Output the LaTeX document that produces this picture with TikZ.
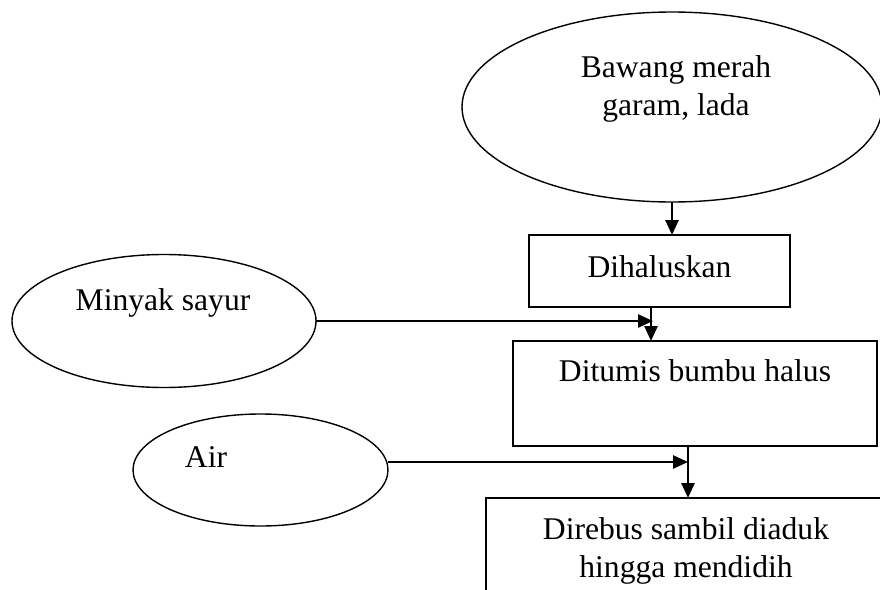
\documentclass[tikz,border=0pt]{standalone}
\usepackage{fontspec}
\setmainfont{Liberation Serif}
\usetikzlibrary{shapes.geometric,arrows.meta}
\begin{document}
\begin{tikzpicture}[x=1pt,y=-1pt,
  every node/.style={inner sep=0pt, outer sep=0pt},
  oval/.style={draw, line width=1.4pt, ellipse},
  stepbox/.style={draw, line width=1.8pt, rectangle},
  lbl/.style={font=\fontsize{31.6}{38}\selectfont, anchor=base, align=center},
  flow/.style={line width=2.6pt, -{Triangle[length=15pt,width=13pt]}}]
  \clip (0,0) rectangle (880,589);
  \fill[white] (0,0) rectangle (880,589);

  % inputs
  \node[oval, minimum width=420pt, minimum height=190pt] (bawang) at (672,107) {};
  \node[lbl] (bawangtxt) at (676,115) {Bawang merah\\garam, lada};
  \node[oval, minimum width=304pt, minimum height=133pt] (minyak) at (164,321) {};
  \node[lbl] (minyaktxt) at (163,310) {Minyak sayur};
  \node[oval, minimum width=255pt, minimum height=112pt] (air) at (260.5,470) {};
  \node[lbl] (airtxt) at (206,467) {Air};

  % process steps
  \node[stepbox, minimum width=261pt, minimum height=72pt] (dihal) at (659.5,271) {};
  \node[lbl] (dihaltxt) at (659.5,277) {Dihaluskan};
  \node[stepbox, minimum width=364pt, minimum height=105pt] (tumis) at (695,393.5) {};
  \node[lbl] (tumistxt) at (695,381) {Ditumis bumbu halus};
  \node[stepbox, minimum width=400pt, minimum height=140pt] (rebus) at (686,568) {};
  \node[lbl] (rebustxt) at (686,577) {Direbus sambil diaduk\\hingga mendidih};

  % connectors
  \draw[flow] (bawang.south) -- (bawang.south |- dihal.north);
  \coordinate (dout) at ([xshift=-8.5pt]dihal.south);
  \draw[flow] (dout) -- (dout |- tumis.north);
  \draw[flow] (minyak.east) -- ([xshift=2pt]minyak.east -| dout);
  \coordinate (tout) at ([xshift=-7pt]tumis.south);
  \draw[flow] (tout) -- (tout |- rebus.north);
  \coordinate (aout) at ([yshift=8pt]air.east);
  \draw[flow] (aout) -- (aout -| tout);
\end{tikzpicture}
\end{document}
